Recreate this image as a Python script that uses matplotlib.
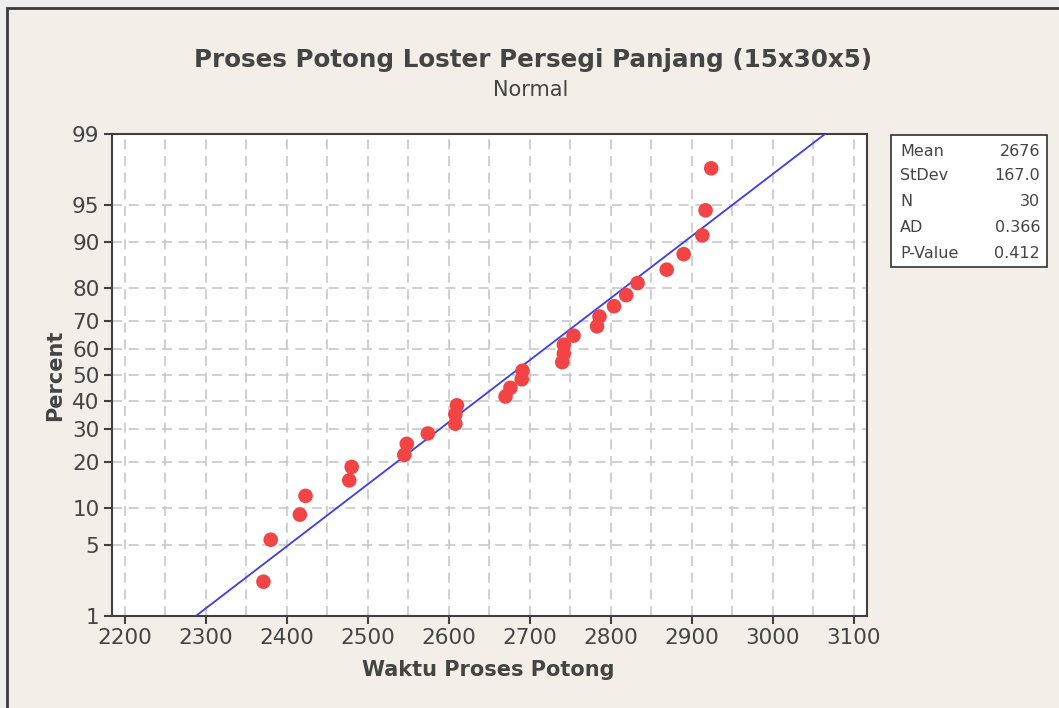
import numpy as np
import matplotlib
matplotlib.use("Agg")
import matplotlib.pyplot as plt
from matplotlib.patches import Rectangle
from statistics import NormalDist

# ---- data ----
waktu = [2371, 2380, 2416, 2423, 2477, 2480, 2545, 2548, 2574, 2608,
         2608, 2610, 2670, 2676, 2690, 2691, 2740, 2742, 2742, 2754,
         2783, 2786, 2804, 2819, 2833, 2869, 2890, 2913, 2917, 2924]
stat_labels = ["Mean", "StDev", "N", "AD", "P-Value"]
stat_values = ["2676", "167.0", "30", "0.366", "0.412"]
mean_val = 2676.0
sd_val = 167.0
y_ticks = [1, 5, 10, 20, 30, 40, 50, 60, 70, 80, 90, 95, 99]
x_ticks = [2200, 2300, 2400, 2500, 2600, 2700, 2800, 2900, 3000, 3100]

nd = NormalDist()
def fwd(p):
    p = np.asarray(p, dtype=float)
    out = np.empty_like(p)
    flat = p.ravel()
    o = out.ravel()
    for i, v in enumerate(flat):
        v = min(max(v, 1e-6), 100 - 1e-6)
        o[i] = nd.inv_cdf(v / 100.0)
    return out
def inv(z):
    z = np.asarray(z, dtype=float)
    out = np.empty_like(z)
    flat = z.ravel()
    o = out.ravel()
    for i, v in enumerate(flat):
        o[i] = nd.cdf(v) * 100.0
    return out

n = len(waktu)
xs = np.sort(np.array(waktu, dtype=float))
pct = (np.arange(1, n + 1) - 0.3) / (n + 0.4) * 100

W, H = 1059, 708
fig = plt.figure(figsize=(W / 100, H / 100), dpi=100)
fig.patch.set_facecolor("#EEEEEE")
# beige panel with dark frame
fig.add_artist(Rectangle((7 / W, -0.05), 1.1, (H - 8) / H + 0.05, transform=fig.transFigure,
                         facecolor="#F3EFE8", edgecolor="#3A3A3A", linewidth=2, zorder=0))

txtc = "#444444"
ax = fig.add_axes([112 / W, 1 - 616 / H, (866.7 - 112) / W, (616 - 134) / H])
ax.set_facecolor("white")
ax.set_yscale("function", functions=(fwd, inv))
ax.set_ylim(1, 99)
ax.set_xlim(2184, 3116)

ax.set_yticks(y_ticks)
ax.set_yticklabels([str(t) for t in y_ticks])
ax.set_xticks(x_ticks)
ax.set_xticks(np.arange(2250, 3100, 100), minor=True)
ax.yaxis.set_minor_locator(matplotlib.ticker.NullLocator())
ax.tick_params(axis="both", which="major", direction="out", length=6, width=1.5,
               color="#404040", labelcolor=txtc, labelsize=15.5, pad=3)
ax.tick_params(axis="x", which="minor", length=0)
for s in ax.spines.values():
    s.set_color("#404040")
    s.set_linewidth(1.5)

grid_kw = dict(color="#C8C8C8", linewidth=1.2, linestyle=(0, (6, 4)), zorder=1)
for xv in np.arange(2200, 3101, 50):
    ax.axvline(xv, **grid_kw)
for yv in y_ticks[1:-1]:
    ax.axhline(yv, **grid_kw)

# fitted line
p_line = np.array([1.0, 99.0])
x_line = mean_val + sd_val * fwd(p_line)
ax.plot(x_line, p_line, color="#3C3CF0", linewidth=1.3, zorder=3)
ax.scatter(xs, pct, s=110, color="#F24444", edgecolor="none", zorder=4)

fig.text(533 / W, 1 - 60 / H, "Proses Potong Loster Persegi Panjang (15x30x5)",
         ha="center", va="center", fontsize=17.7, fontweight="bold", color=txtc)
fig.text(531 / W, 1 - 90 / H, "Normal", ha="center", va="center", fontsize=15, color=txtc)
fig.text(55 / W, 1 - 375 / H, "Percent", ha="center", va="center", rotation=90,
         fontsize=15, fontweight="bold", color=txtc)
fig.text(488 / W, 1 - 670 / H, "Waktu Proses Potong", ha="center", va="center",
         fontsize=15, fontweight="bold", color=txtc)

# stats box
fig.add_artist(Rectangle((891 / W, 1 - 267 / H), (1047 - 891) / W, (267 - 135) / H,
                         transform=fig.transFigure, facecolor="white", edgecolor="#404040",
                         linewidth=1.3, zorder=2))
rows_y = [151, 176, 201, 227, 253]
for lab, val, ry in zip(stat_labels, stat_values, rows_y):
    fig.text(900 / W, 1 - ry / H, lab, ha="left", va="center", fontsize=11.5, color=txtc, zorder=3)
    fig.text(1040 / W, 1 - ry / H, val, ha="right", va="center", fontsize=11.5, color=txtc, zorder=3)

fig.savefig("out.png", dpi=100, facecolor=fig.get_facecolor())
